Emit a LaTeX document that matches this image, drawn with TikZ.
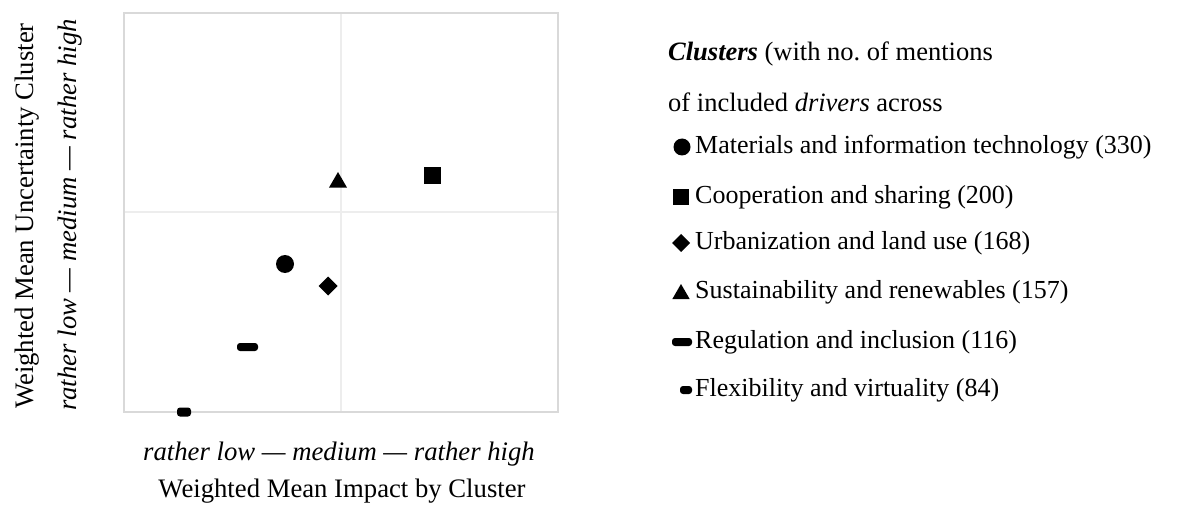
\documentclass[tikz,border=0pt]{standalone}
\usepackage{fontspec}
\setmainfont{Liberation Serif}
\usetikzlibrary{shapes.geometric}
\begin{document}
\begin{tikzpicture}[x=1pt,y=-1pt,
  frameline/.style={draw=black!15,line width=1.4pt},
  gridline/.style={draw=black!7,line width=1.4pt},
  marker/.style={fill=black,draw=none,inner sep=0pt,outer sep=0pt},
  dot/.style={marker,circle,minimum size=#1},
  sq/.style={marker,rectangle,minimum size=#1},
  dmd/.style={marker,diamond,minimum width=#1,minimum height=#1},
  tri/.style={marker,regular polygon,regular polygon sides=3,minimum size=#1},
  bar/.style n args={2}{marker,rectangle,rounded corners=3pt,minimum width=#1,minimum height=#2},
  lbl/.style={font=\fontsize{26}{30}\selectfont,inner sep=0pt,anchor=west},
  ttl/.style={font=\fontsize{26.5}{30}\selectfont,inner sep=0pt,anchor=base west},
  axlbl/.style={font=\fontsize{26.7}{30}\selectfont,inner sep=0pt},
  axscale/.style={font=\fontsize{26.7}{30}\selectfont\itshape,inner sep=0pt}]
\useasboundingbox (0,0) rectangle (1197,513);

% plot area with quadrant lines
\coordinate (tl) at (124,13);
\coordinate (br) at (558,412);
\draw[gridline] (341,13) -- (341,412);
\draw[gridline] (124,212) -- (558,212);
\draw[frameline] (tl) rectangle (br);

% cluster positions
\node[dot=18pt] (pmat) at (285,264) {};
\node[sq=17pt] (pcoop) at (432,176) {};
\node[dmd=19pt] (purb) at (328,286) {};
\node[tri=21pt] (psus) at (338,182.5) {};
\node[bar={21pt}{8pt}] (preg) at (247.5,347) {};
\node[bar={14pt}{9pt}] (pflex) at (184,412) {};

% axis labels
\node[axscale] (xscale) at (339,454) {rather low --- medium --- rather high};
\node[axlbl] (xtitle) at (342,491) {Weighted Mean Impact by Cluster};
\node[axscale,rotate=90] (yscale) at (70,215) {rather low --- medium --- rather high};
\node[axlbl,rotate=90] (ytitle) at (27,216) {Weighted Mean Uncertainty Cluster};

% legend
\node[ttl] (lt1) at (668,61) {\textbf{\textit{Clusters}} (with no.\ of mentions};
\node[ttl] (lt2) at (668,112) {of included \textit{drivers} across};
\node[dot=17pt] (lmat) at (682,147) {};
\node[lbl] at (695,147) {Materials and information technology (330)};
\node[sq=16pt] (lcoop) at (681,197) {};
\node[lbl] at (695,197) {Cooperation and sharing (200)};
\node[dmd=18pt] (lurb) at (681,243) {};
\node[lbl] at (695,243) {Urbanization and land use (168)};
\node[tri=20pt] (lsus) at (681,294) {};
\node[lbl] at (695,292) {Sustainability and renewables (157)};
\node[bar={20pt}{8pt}] (lreg) at (682,342) {};
\node[lbl] at (695,342) {Regulation and inclusion (116)};
\node[bar={12pt}{8pt}] (lflex) at (686,390) {};
\node[lbl] at (695,390) {Flexibility and virtuality (84)};
\end{tikzpicture}
\end{document}
